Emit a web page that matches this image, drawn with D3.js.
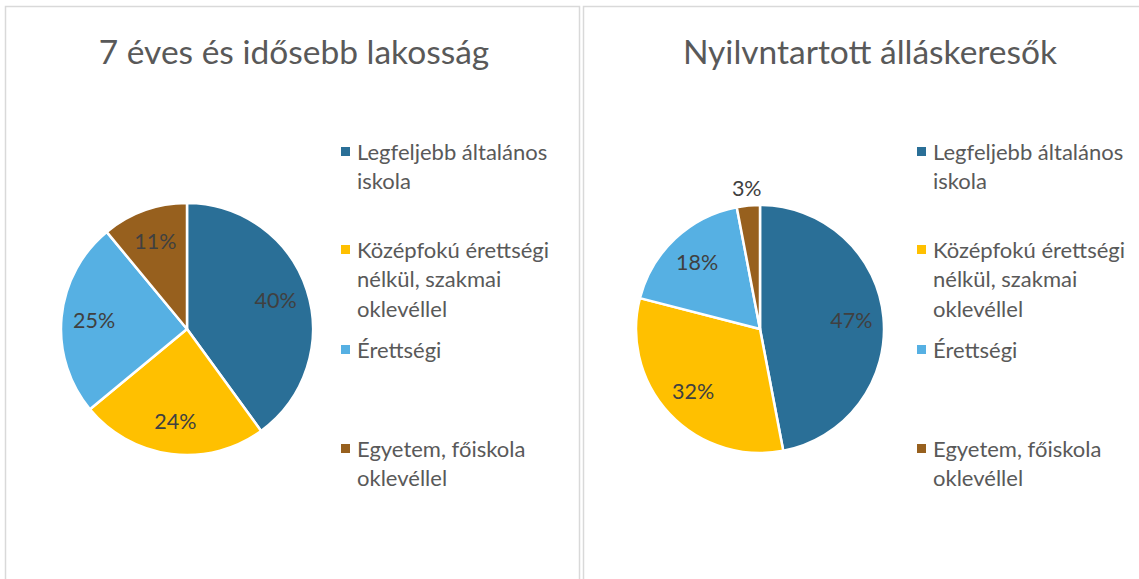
<!DOCTYPE html>
<html>
<head>
<meta charset="utf-8">
<script src="https://cdn.jsdelivr.net/npm/d3@7"></script>
<style>
  body { margin: 0; background: #fff; }
  text { font-family: Lato, "Open Sans", sans-serif; }
</style>
</head>
<body>
<div id="chart"></div>
<script>
var categories = ["Legfeljebb általános iskola", "Középfokú érettségi nélkül, szakmai oklevéllel", "Érettségi", "Egyetem, főiskola oklevéllel"];
// legend lines as wrapped in the picture
var legendLines = [["Legfeljebb általános", "iskola"], ["Középfokú érettségi", "nélkül, szakmai", "oklevéllel"], ["Érettségi"], ["Egyetem, főiskola", "oklevéllel"]];
var titles = ["7 éves és idősebb lakosság", "Nyilvntartott álláskeresők"];
var lakossag = [40, 24, 25, 11];
var allaskeresok = [47, 32, 18, 3];
var colors = ["#2A6F97", "#FFC000", "#56B0E3", "#97601E"];

var width = 1139, height = 579;

var svg = d3.select("#chart")
  .append("svg")
  .attr("width", width)
  .attr("height", height);

var panels = [
  {x: 5, w: 574, title: titles[0], values: lakossag, cx: 187, cy: 329, r: 126, legendX: 341},
  {x: 583, w: 570, title: titles[1], values: allaskeresok, cx: 760, cy: 329, r: 124, legendX: 917}
];

var color = d3.scaleOrdinal().domain(categories).range(colors);

panels.forEach(function(p) {
  var g = svg.append("g");

  // panel frame
  g.append("rect")
    .attr("x", p.x + 0.5)
    .attr("y", 6.5)
    .attr("width", p.w)
    .attr("height", 600)
    .attr("fill", "none")
    .attr("stroke", "#d9d9d9")
    .attr("stroke-width", 1.5);

  g.append("text")
    .attr("x", p.x + p.w / 2 + 2)
    .attr("y", 64)
    .attr("text-anchor", "middle")
    .attr("font-size", 33.5)
    .attr("fill", "#595959")
    .text(p.title);

  var data = p.values.map(function(v, i) { return {cat: categories[i], value: v}; });

  var pie = d3.pie().sort(null).value(function(d) { return d.value; });
  var arc = d3.arc().innerRadius(0).outerRadius(p.r);
  var labelArc = d3.arc().innerRadius(p.r * 0.74).outerRadius(p.r * 0.74);
  var outArc = d3.arc().innerRadius(p.r + 17).outerRadius(p.r + 17);

  var pg = g.append("g")
    .attr("transform", "translate(" + p.cx + "," + p.cy + ")");

  var arcs = pie(data);

  pg.selectAll("path")
    .data(arcs)
    .enter().append("path")
      .attr("d", arc)
      .attr("fill", function(d) { return color(d.data.cat); })
      .attr("stroke", "#fff")
      .attr("stroke-width", 2.5)
      .attr("stroke-linejoin", "round");

  pg.selectAll("text")
    .data(arcs)
    .enter().append("text")
      .attr("transform", function(d) {
        var c = d.data.value < 5 ? outArc.centroid(d) : labelArc.centroid(d);
        return "translate(" + c + ")";
      })
      .attr("dy", "0.35em")
      .attr("text-anchor", "middle")
      .attr("font-size", 21.5)
      .attr("fill", "#404040")
      .text(function(d) { return d.data.value + "%"; });

  // legend
  var legendTop = [152, 250, 350, 449];
  var leg = g.append("g");
  categories.forEach(function(c, i) {
    var y0 = legendTop[i];
    leg.append("rect")
      .attr("x", p.legendX)
      .attr("y", y0 - 5)
      .attr("width", 9)
      .attr("height", 9)
      .attr("fill", color(c));
    var t = leg.append("text")
      .attr("x", p.legendX + 16)
      .attr("y", y0)
      .attr("font-size", 22)
      .attr("fill", "#595959");
    legendLines[i].forEach(function(line, j) {
      t.append("tspan")
        .attr("x", p.legendX + 16)
        .attr("dy", j === 0 ? "0.35em" : 29.5)
        .text(line);
    });
  });
});
</script>
</body>
</html>
